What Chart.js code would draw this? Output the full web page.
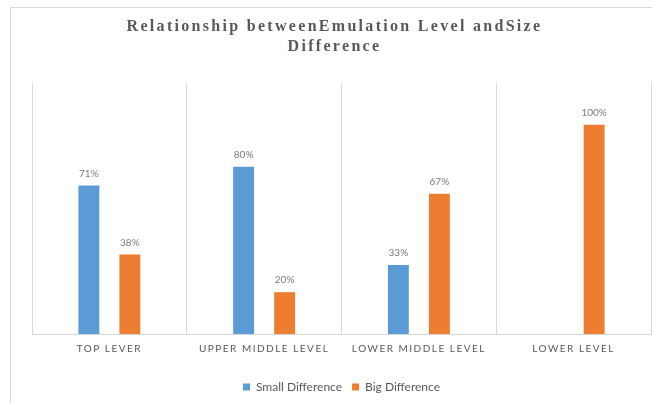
<!DOCTYPE html>
<html>
<head>
<meta charset="utf-8">
<script src="https://cdn.jsdelivr.net/npm/chart.js@4.4.1/dist/chart.umd.min.js"></script>
<style>
    html, body { margin: 0; padding: 0; background: #fff; overflow: hidden; }
    #wrap { position: relative; width: 652px; height: 403px; overflow: hidden; }
    #frame { position: absolute; left: 10px; top: 7px; width: 700px; height: 450px; border: 1px solid #d9d9d9; }
    #emulationChart { position: absolute; left: 0; top: 0; }
</style>
</head>
<body>
<div id="wrap">
    <div id="frame"></div>
    <canvas id="emulationChart" width="652" height="403"></canvas>
</div>
<script>
const levels = ["TOP LEVER", "UPPER MIDDLE LEVEL", "LOWER MIDDLE LEVEL", "LOWER LEVEL"];
const smallDifference = [71, 80, 33, null];
const bigDifference = [38, 20, 67, 100];
const seriesNames = ["Small Difference", "Big Difference"];
const titleLines = ["Relationship betweenEmulation Level andSize", "Difference"];

const TEXT_GREY = "#595959";

// -----------------------------
// Letter spacing for title and category labels
// -----------------------------
function wrapSpacing(obj, method, spacing) {
    if (!obj || obj["_spaced_" + method]) return;
    const orig = obj[method];
    obj[method] = function (...args) {
        const ctx = this.ctx;
        ctx.save();
        ctx.letterSpacing = spacing;
        orig.apply(this, args);
        ctx.restore();
    };
    obj["_spaced_" + method] = true;
}

const spacingPlugin = {
    id: "spacing",
    beforeDraw(chart) {
        wrapSpacing(chart.titleBlock, "draw", "2.3px");
        wrapSpacing(chart.scales.x, "drawLabels", "1.5px");
    },
};

// value labels above the bars
const valueLabels = {
    id: "valueLabels",
    afterDatasetsDraw(chart) {
        const ctx = chart.ctx;
        ctx.save();
        ctx.font = "10px Lato, sans-serif";
        ctx.fillStyle = "#7a7a7a";
        ctx.textAlign = "center";
        ctx.textBaseline = "bottom";
        chart.data.datasets.forEach((ds, i) => {
            chart.getDatasetMeta(i).data.forEach((bar, j) => {
                const v = ds.data[j];
                if (v === null || v === undefined) return;
                ctx.fillText(v + "%", bar.x, bar.y - 7);
            });
        });
        ctx.restore();
    },
};

new Chart(document.getElementById("emulationChart"), {
    type: "bar",
    data: {
        labels: levels,
        datasets: [
            {
                label: seriesNames[0],
                data: smallDifference,
                backgroundColor: "#5B9BD5",
                categoryPercentage: 0.53,
                barPercentage: 0.51,
            },
            {
                label: seriesNames[1],
                data: bigDifference,
                backgroundColor: "#ED7D31",
                categoryPercentage: 0.53,
                barPercentage: 0.51,
            },
        ],
    },
    options: {
        responsive: false,
        animation: false,
        layout: { padding: { left: 18, right: 1, top: 0, bottom: 0 } },
        plugins: {
            title: {
                display: true,
                text: titleLines,
                color: TEXT_GREY,
                font: { family: "'Liberation Serif', serif", size: 16, weight: "bold", lineHeight: 1.25 },
                padding: { top: 17, bottom: 26 },
            },
            legend: {
                position: "bottom",
                fullSize: false,
                labels: {
                    color: TEXT_GREY,
                    boxWidth: 7,
                    boxHeight: 7,
                    padding: 10,
                    font: { family: "Lato, sans-serif", size: 12 },
                },
            },
            tooltip: { enabled: false },
        },
        scales: {
            x: {
                grid: { color: "#d9d9d9", drawTicks: false, offset: true },
                border: { color: "#d9d9d9" },
                ticks: {
                    color: TEXT_GREY,
                    padding: 9,
                    maxRotation: 0,
                    autoSkip: false,
                    font: { family: "Lato, sans-serif", size: 10 },
                },
                afterFit(scale) { scale.height = 37; },
            },
            y: {
                min: 0,
                max: 120,
                grid: { display: false },
                border: { display: false },
                ticks: { display: false },
                afterFit(scale) { scale.width = 14; },
            },
        },
    },
    plugins: [spacingPlugin, valueLabels],
});
</script>
</body>
</html>
